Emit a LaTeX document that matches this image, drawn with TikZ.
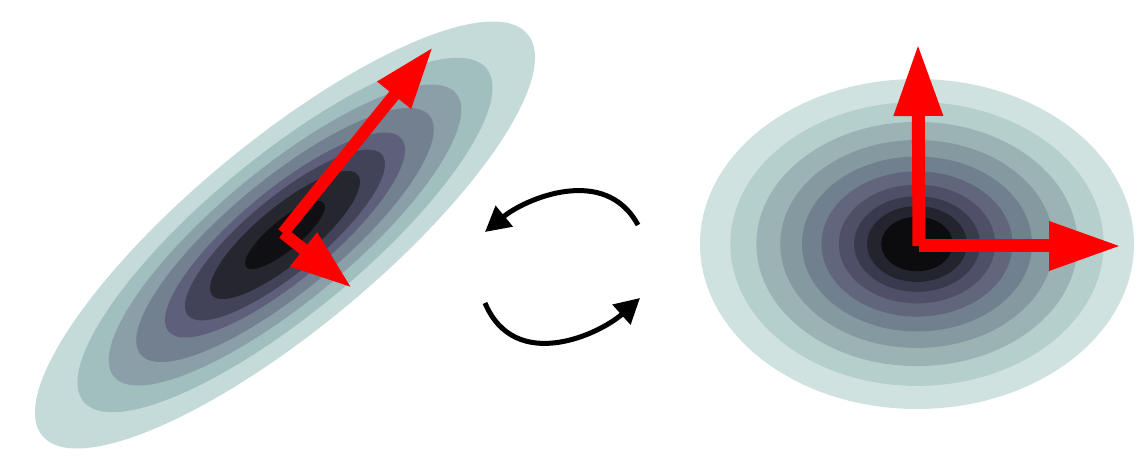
\documentclass[tikz,border=0pt]{standalone}
\usetikzlibrary{arrows.meta}
% contour shades, outer (light) to inner (dark)
\definecolor{lA}{HTML}{C5DBD9}
\definecolor{lB}{HTML}{A2BFC0}
\definecolor{lC}{HTML}{8A9FA8}
\definecolor{lD}{HTML}{73808F}
\definecolor{lE}{HTML}{5E5F7A}
\definecolor{lF}{HTML}{424258}
\definecolor{lG}{HTML}{26262F}
\definecolor{lH}{HTML}{0F0F14}
\definecolor{rA}{HTML}{D0E2E0}
\definecolor{rB}{HTML}{B5CFCD}
\definecolor{rC}{HTML}{9BB3B5}
\definecolor{rD}{HTML}{8499A0}
\definecolor{rE}{HTML}{71808E}
\definecolor{rF}{HTML}{62667D}
\definecolor{rG}{HTML}{4F4F68}
\definecolor{rH}{HTML}{3A3A4E}
\definecolor{rI}{HTML}{24242E}
\definecolor{rJ}{HTML}{0C0C0F}

\begin{document}
\begin{tikzpicture}[
    vec/.style={-{Triangle[length=0.62cm, width=0.4cm]}, line width=0.12cm, color=red},
    bigvec/.style={-{Triangle[length=0.72cm, width=0.46cm]}, line width=0.13cm, color=red},
    turn/.style={-{Triangle[length=0.25cm, width=0.26cm]}, line width=0.05cm, color=black},
  ]
  \useasboundingbox (0,0) rectangle (11.42,4.59);

  % Left: correlated cloud
  \coordinate (lc) at (2.85,2.24);
  \foreach \f/\c in {1/lA, 0.83/lB, 0.705/lC, 0.595/lD, 0.48/lE, 0.40/lF, 0.30/lG, 0.16/lH}
    \fill[\c, rotate around={39.6:(lc)}] (lc) ellipse ({3.15*\f} and {0.94*\f});

  \coordinate (lo)   at (2.83,2.26);
  \coordinate (lmaj) at (4.33,4.12);
  \coordinate (lmin) at (3.52,1.71);
  \draw[vec] (lo) -- (lmaj);
  \draw[vec] (lo) -- (lmin);

  % Right: decorrelated cloud
  \coordinate (rc) at (9.17,2.15);
  \foreach \f/\c in {1/rA, 0.86/rB, 0.74/rC, 0.63/rD, 0.53/rE, 0.44/rF, 0.36/rG, 0.29/rH, 0.23/rI, 0.165/rJ}
    \fill[\c] (rc) ellipse ({2.17*\f} and {1.65*\f});

  \coordinate (ro)   at (9.19,2.13);
  \coordinate (rup)  at (9.18,4.15);
  \coordinate (rrgt) at (11.21,2.13);
  \draw[bigvec] (ro) -- (rup);
  \draw[bigvec] (ro) -- (rrgt);

  % transform back and forth
  \coordinate (tS) at (6.38,2.34);
  \coordinate (tE) at (4.85,2.27);
  \coordinate (bS) at (4.85,1.56);
  \coordinate (bE) at (6.40,1.61);
  \draw[turn] (tS) .. controls (6.05,2.95) and (5.25,2.6) .. (tE);
  \draw[turn] (bS) .. controls (5.15,0.85) and (6.0,1.25) .. (bE);
\end{tikzpicture}
\end{document}
